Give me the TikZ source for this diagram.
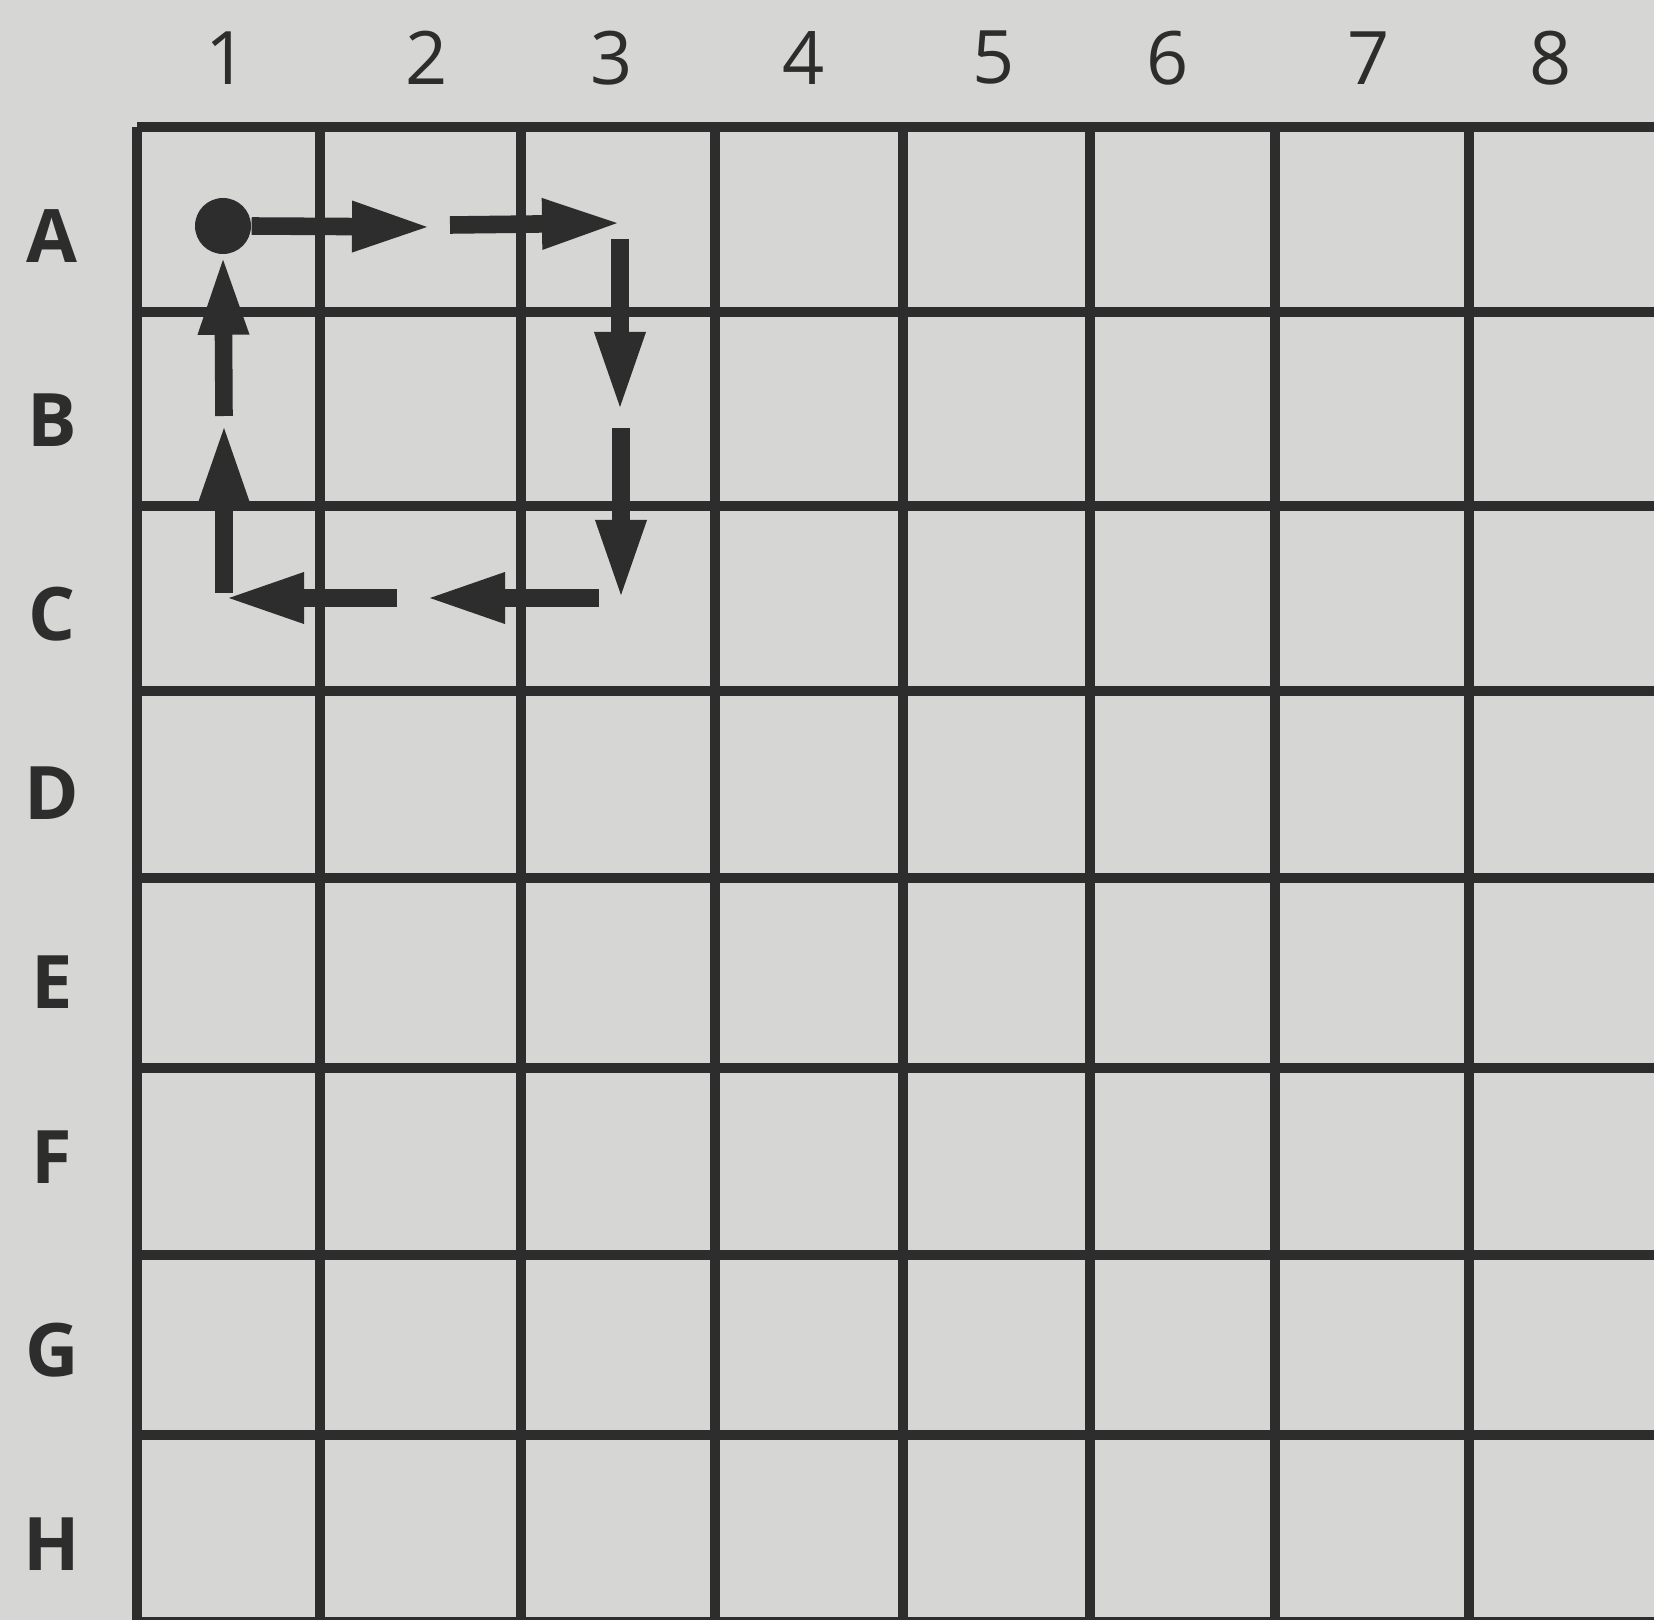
\documentclass[tikz,border=0pt]{standalone}
\usepackage{fontspec}
\setmainfont{Open Sans}
\usetikzlibrary{arrows.meta}
\definecolor{paper}{RGB}{214,214,212}
\definecolor{ink}{RGB}{45,45,45}

\begin{document}
\begin{tikzpicture}[x=1cm,y=-1cm,>={Triangle[length=8mm,width=4.6mm]},
  gridline/.style={ink,line width=2.6pt},
  move/.style={->,ink,line width=5pt},
  lab/.style={ink,font=\fontsize{21}{25}\selectfont}]
\fill[paper] (0,0) rectangle (16.54,16.20);
\useasboundingbox (0,0) rectangle (16.54,16.20);
\clip (0,0) rectangle (16.54,16.20);
% board
\foreach \x in {1.37,3.20,5.21,7.15,9.03,10.90,12.75,14.69}
  \draw[gridline] (\x,1.27) -- (\x,16.30);
\foreach \y in {1.27,3.12,5.06,6.91,8.78,10.68,12.55,14.35,16.22}
  \draw[gridline] (1.37,\y) -- (16.60,\y);
% column and row labels
\foreach \c/\x in {1/2.27,2/4.27,3/6.12,4/8.04,5/9.94,6/11.68,7/13.69,8/15.51}
  \node[lab] (col\c) at (\x,0.58) {\c};
\foreach \r/\y in {A/2.36,B/4.20,C/6.14,D/7.93,E/9.82,F/11.57,G/13.50,H/15.44}
  \node[lab,font=\fontsize{21}{25}\selectfont\bfseries] (row\r) at (0.52,\y) {\r};
% the route
\node[circle,fill=ink,minimum size=5.6mm,inner sep=0pt] (start) at (2.23,2.26) {};
\draw[move] (start.east) -- (4.32,2.27);
\draw[move] (4.50,2.25) -- (6.22,2.23);
\draw[move] (6.20,2.39) -- (6.20,4.12);
\draw[move] (6.21,4.28) -- (6.21,6.00);
\draw[move] (5.99,5.98) -- (4.25,5.98);
\draw[move] (3.97,5.98) -- (2.24,5.98);
\draw[move] (2.24,5.93) -- (2.24,4.23);
\draw[move] (2.24,4.16) -- (start.south);
\end{tikzpicture}
\end{document}
